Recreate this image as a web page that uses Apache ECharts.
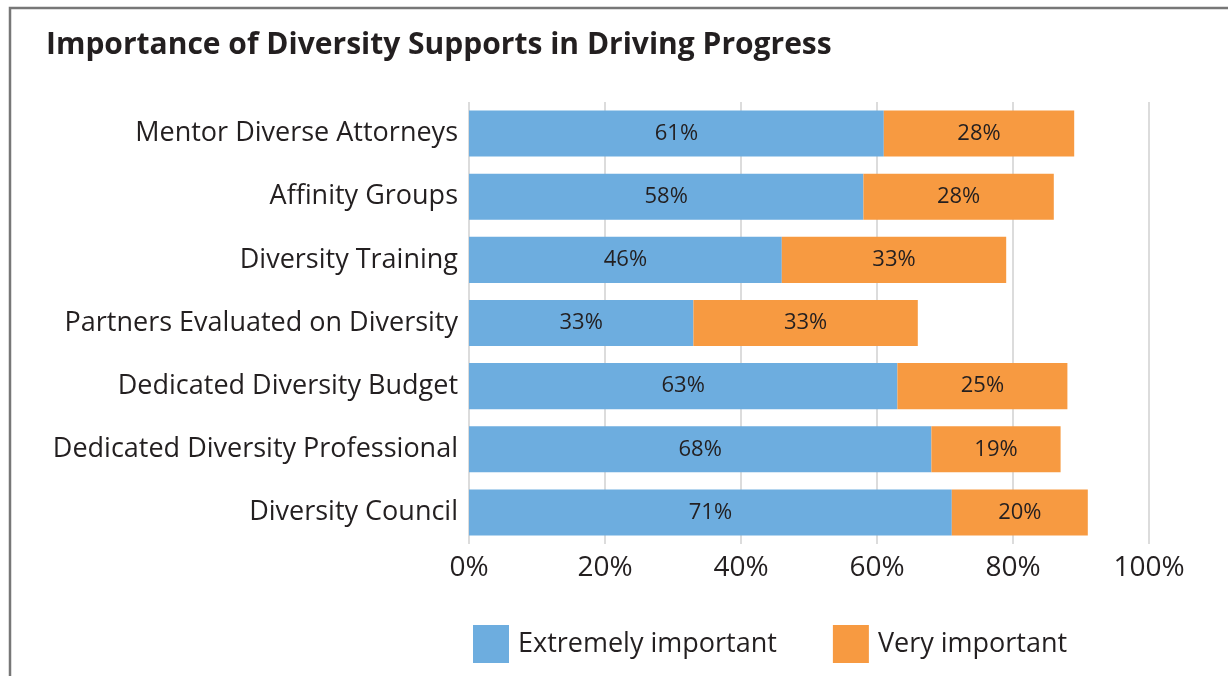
<!DOCTYPE html>
<html>
<head>
<meta charset="utf-8">
<script src="https://cdn.jsdelivr.net/npm/echarts@6/dist/echarts.min.js"></script>
<style>
  html, body { margin: 0; padding: 0; background: #fff; }
  #chart { width: 1228px; height: 676px; }
</style>
</head>
<body>
<div id="chart"></div>
<script>
// Diversity supports, listed top to bottom
const categories = [
  'Mentor Diverse Attorneys',
  'Affinity Groups',
  'Diversity Training',
  'Partners Evaluated on Diversity',
  'Dedicated Diversity Budget',
  'Dedicated Diversity Professional',
  'Diversity Council'
];
const extremelyImportant = [61, 58, 46, 33, 63, 68, 71];
const veryImportant = [28, 28, 33, 33, 25, 19, 20];
const xTicks = [0, 20, 40, 60, 80, 100];

const FONT = '"Open Sans", "Noto Sans", sans-serif';
const TEXT = '#231f20';

const chart = echarts.init(document.getElementById('chart'), null, { renderer: 'canvas' });

const labelStyle = {
  show: true,
  position: 'inside',
  formatter: p => p.value + '%',
  color: TEXT,
  fontFamily: FONT,
  fontSize: 22,
  padding: [4, 0, 0, 0]
};

chart.setOption({
  animation: false,
  backgroundColor: '#fff',
  title: {
    text: 'Importance of Diversity Supports in Driving Progress',
    left: 41,
    top: 25,
    textStyle: { fontFamily: FONT, fontWeight: 'bold', fontSize: 30, color: TEXT }
  },
  graphic: [{
    type: 'polyline',
    shape: { points: [[10, 676], [10, 8], [1228, 8]] },
    style: { stroke: '#777', lineWidth: 2.5, fill: null }
  }],
  legend: {
    left: 468,
    top: 620,
    itemWidth: 36,
    itemHeight: 38,
    itemGap: 56,
    icon: 'rect',
    textStyle: { fontFamily: FONT, fontSize: 27, color: TEXT, padding: [0, 0, 0, 4] },
    data: ['Extremely important', 'Very important']
  },
  grid: { left: 469, right: 79, top: 102, bottom: 132, containLabel: false },
  xAxis: {
    type: 'value',
    min: 0,
    max: 100,
    interval: 20,
    axisLine: { show: false },
    axisTick: { show: false },
    splitLine: { show: true, lineStyle: { color: '#d0d0d0', width: 1.5 } },
    axisLabel: {
      formatter: v => (xTicks.includes(v) ? v + '%' : ''),
      fontFamily: FONT, fontSize: 28, color: TEXT, margin: 10
    }
  },
  yAxis: {
    type: 'category',
    inverse: true,
    data: categories,
    axisLine: { show: false },
    axisTick: { show: false },
    axisLabel: { fontFamily: FONT, fontSize: 27, color: TEXT, margin: 11, padding: [4, 0, 0, 0] }
  },
  series: [
    {
      name: 'Extremely important',
      type: 'bar',
      stack: 'total',
      data: extremelyImportant,
      barCategoryGap: '27%',
      itemStyle: { color: '#6daddf' },
      label: labelStyle
    },
    {
      name: 'Very important',
      type: 'bar',
      stack: 'total',
      data: veryImportant,
      barCategoryGap: '27%',
      itemStyle: { color: '#f79a41' },
      label: labelStyle
    }
  ]
});
</script>
</body>
</html>
